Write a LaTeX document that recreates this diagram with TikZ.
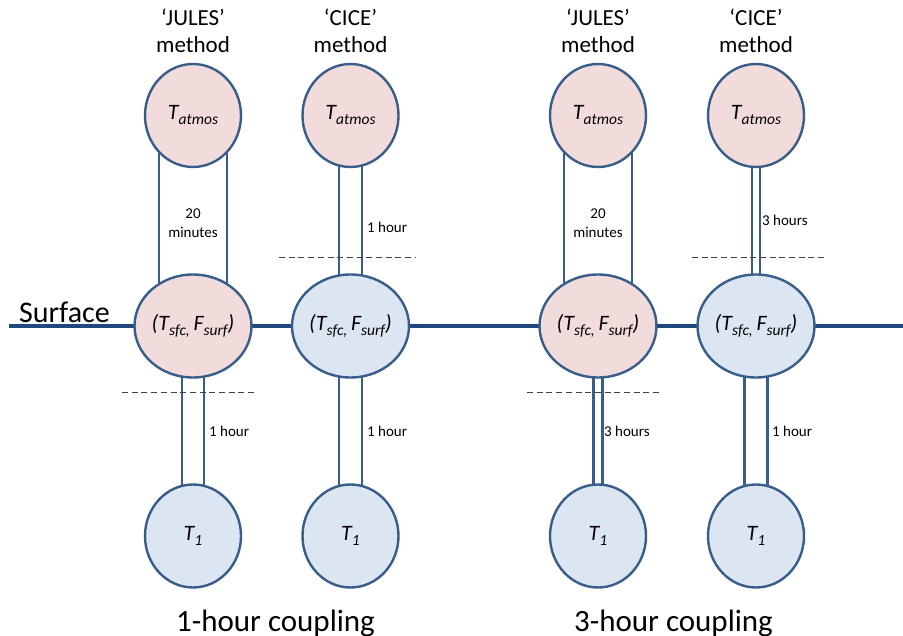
\documentclass[tikz,border=0pt]{standalone}
\usepackage{fontspec}
\setmainfont{Carlito}
\usetikzlibrary{shapes.geometric,backgrounds}
\definecolor{edgec}{HTML}{385D8A}
\definecolor{pinkf}{HTML}{F2DCDB}
\definecolor{bluef}{HTML}{DCE6F2}
\definecolor{surfc}{HTML}{1F497D}
\newcommand{\vsub}[1]{\raisebox{-5pt}{\fontsize{15.5}{15.5}\selectfont\itshape #1}}
\begin{document}
\begin{tikzpicture}[x=1pt,y=-1pt,
  ell/.style={ellipse, draw=edgec, line width=2.4pt, minimum width=96pt, minimum height=103pt, inner sep=0pt, font=\fontsize{22}{26}\selectfont\itshape},
  pinkell/.style={ell, fill=pinkf},
  blueell/.style={ell, fill=bluef},
  bar/.style={draw=edgec, line width=2.4pt},
  surfline/.style={draw=surfc, line width=4pt},
  cut/.style={draw=black!75, line width=1pt, dash pattern=on 6pt off 3.7pt},
  hdr/.style={font=\fontsize{23}{28}\selectfont, inner sep=0pt, anchor=base},
  lbl/.style={font=\fontsize{15}{19}\selectfont, inner sep=0pt, anchor=base west},
  big/.style={font=\fontsize{31}{36}\selectfont, inner sep=0pt, anchor=base}]
\useasboundingbox (0,0) rectangle (903,636);

% headers
\node[hdr] (h1a) at (193,26) {‘JULES’};
\node[hdr] (h1b) at (193,53) {method};
\node[hdr] (h2a) at (350.5,26) {‘CICE’};
\node[hdr] (h2b) at (350.5,53) {method};
\node[hdr] (h3a) at (598,26) {‘JULES’};
\node[hdr] (h3b) at (598,53) {method};
\node[hdr] (h4a) at (756,26) {‘CICE’};
\node[hdr] (h4b) at (756,53) {method};

% nodes
\node[pinkell] (a1) at (193,115.5) {T\vsub{atmos}};
\node[pinkell] (a2) at (350.5,115.5) {T\vsub{atmos}};
\node[pinkell] (a3) at (598,115.5) {T\vsub{atmos}};
\node[pinkell] (a4) at (756,115.5) {T\vsub{atmos}};

\node[pinkell] (m1) at (193,326) {(T\vsub{sfc,}\,F\vsub{surf})};
\node[blueell] (m2) at (350.5,326) {(T\vsub{sfc,}\,F\vsub{surf})};
\node[pinkell] (m3) at (598,326) {(T\vsub{sfc,}\,F\vsub{surf})};
\node[blueell] (m4) at (756,326) {(T\vsub{sfc,}\,F\vsub{surf})};

\node[blueell] (b1) at (193,536) {T\vsub{1}};
\node[blueell] (b2) at (350.5,536) {T\vsub{1}};
\node[blueell] (b3) at (598,536) {T\vsub{1}};
\node[blueell] (b4) at (756,536) {T\vsub{1}};

\coordinate (sL) at (9,326);
\coordinate (sR) at (903,326);

\begin{scope}[on background layer]
  \draw[surfline] (sL) -- (m1.center) -- (m2.center) -- (m3.center) -- (m4.center) -- (sR);
  % upper couplings
  \draw[bar] ([xshift=-34pt]a1.center) -- ([xshift=-34pt]m1.center);
  \draw[bar] ([xshift=34pt]a1.center) -- ([xshift=34pt]m1.center);
  \draw[bar] ([xshift=-11.5pt]a2.center) -- ([xshift=-11.5pt]m2.center);
  \draw[bar] ([xshift=11.5pt]a2.center) -- ([xshift=11.5pt]m2.center);
  \draw[bar] ([xshift=-34pt]a3.center) -- ([xshift=-34pt]m3.center);
  \draw[bar] ([xshift=34pt]a3.center) -- ([xshift=34pt]m3.center);
  \draw[bar] ([xshift=-4pt]a4.center) -- ([xshift=-4pt]m4.center);
  \draw[bar] ([xshift=4pt]a4.center) -- ([xshift=4pt]m4.center);
  % lower couplings
  \draw[bar] ([xshift=-11pt]m1.center) -- ([xshift=-11pt]b1.center);
  \draw[bar] ([xshift=11pt]m1.center) -- ([xshift=11pt]b1.center);
  \draw[bar] ([xshift=-11.5pt]m2.center) -- ([xshift=-11.5pt]b2.center);
  \draw[bar] ([xshift=11.5pt]m2.center) -- ([xshift=11.5pt]b2.center);
  \draw[bar] ([xshift=-4.5pt]m3.center) -- ([xshift=-4.5pt]b3.center);
  \draw[bar] ([xshift=4.5pt]m3.center) -- ([xshift=4.5pt]b3.center);
  \draw[bar] ([xshift=-11.5pt]m4.center) -- ([xshift=-11.5pt]b4.center);
  \draw[bar] ([xshift=11.5pt]m4.center) -- ([xshift=11.5pt]b4.center);
\end{scope}

% dashed cut lines
\draw[cut] (279,258) -- (415,258);
\draw[cut] (692,258) -- (827,258);
\draw[cut] (122,393) -- (257,393);
\draw[cut] (527,393) -- (662,393);

% coupling labels
\node[font=\fontsize{15}{19}\selectfont, inner sep=0pt, align=center] (l1) at (193,223) {20\\minutes};
\node[font=\fontsize{15}{19}\selectfont, inner sep=0pt, align=center] (l3) at (598,223) {20\\minutes};
\node[lbl] (l2) at (367,233) {1 hour};
\node[lbl] (l4) at (762,226) {3 hours};
\node[lbl] (k1) at (209,436) {1 hour};
\node[lbl] (k2) at (367,436) {1 hour};
\node[lbl] (k3) at (604,436) {3 hours};
\node[lbl] (k4) at (772,436) {1 hour};

% surface and captions
\node[font=\fontsize{30}{36}\selectfont, inner sep=0pt, anchor=base west] (surf) at (19,323) {Surface};
\node[big] (c1) at (275.5,631) {1-hour coupling};
\node[big] (c3) at (673.5,631) {3-hour coupling};
\end{tikzpicture}
\end{document}
